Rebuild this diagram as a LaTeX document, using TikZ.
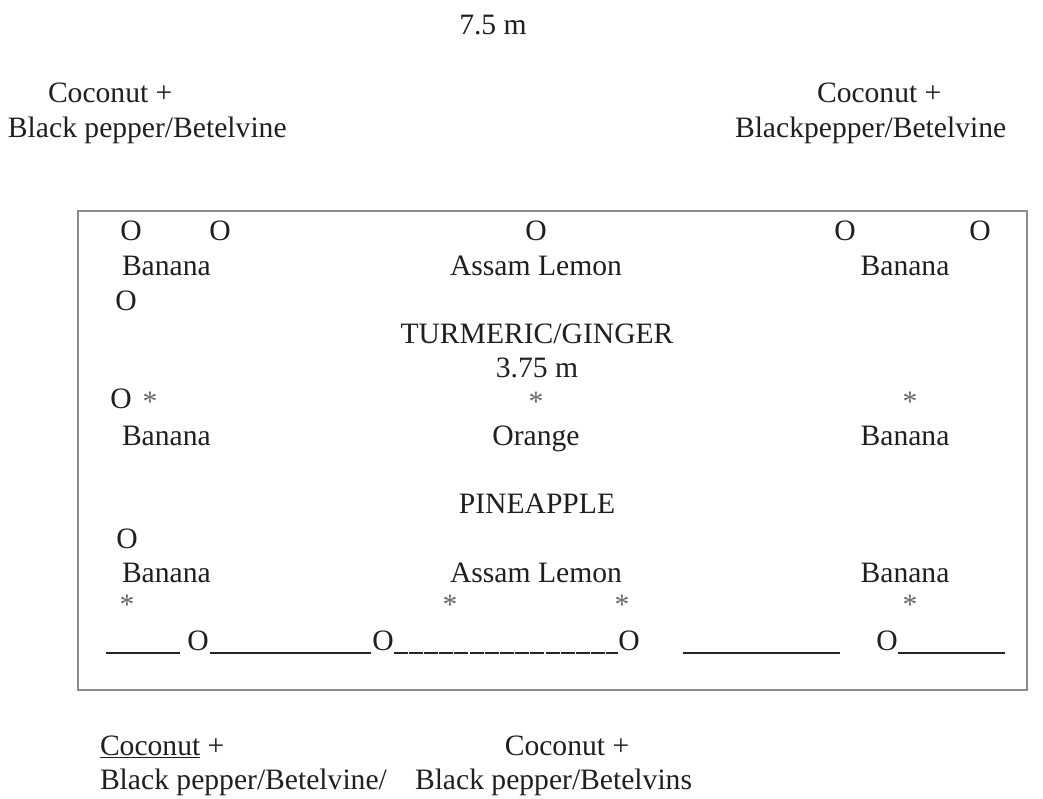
\documentclass[tikz,border=0pt]{standalone}
\usepackage{fontspec}
\setmainfont{Liberation Serif}
\begin{document}
\begin{tikzpicture}[x=1pt,y=-1pt,
  every node/.style={inner sep=0pt,outer sep=0pt,font=\fontsize{29.6}{34}\selectfont,text=black!88},
  lab/.style={anchor=base},
  labw/.style={anchor=base west},
  tree/.style={anchor=base},
  star/.style={anchor=base,text=black!60},
  boxline/.style={draw=black!45,line width=2pt},
  rule/.style={line width=1.4pt,draw=black!85}]
\useasboundingbox (0,0) rectangle (1043,798);
% title
\node[lab] (title) at (493,34) {7.5 m};
% top corners
\node[labw] (tlA) at (48,102) {Coconut +};
\node[labw] (tlB) at (8,137) {Black pepper/Betelvine};
\node[labw] (trA) at (817,102) {Coconut +};
\node[labw] (trB) at (735,137) {Blackpepper/Betelvine};
% plot boundary
\draw[boxline] (78,211) rectangle (1027,690);
% row 1
\node[tree] (o1) at (131,240) {O};
\node[tree] (o2) at (220,240) {O};
\node[tree] (o3) at (536,240) {O};
\node[tree] (o4) at (845,240) {O};
\node[tree] (o5) at (980,240) {O};
\node[labw] (b1) at (122,275) {Banana};
\node[lab] (al1) at (536,275) {Assam Lemon};
\node[lab] (b2) at (905,275) {Banana};
\node[tree] (o6) at (126,310) {O};
\node[lab] (tg) at (537,343) {TURMERIC/GINGER};
\node[lab] (dist) at (537,377) {3.75 m};
% row 2
\node[tree] (o7) at (121,408) {O};
\node[star] (s1) at (150,411) {*};
\node[star] (s2) at (536,411) {*};
\node[star] (s3) at (910,411) {*};
\node[labw] (b3) at (122,445) {Banana};
\node[lab] (or) at (536,445) {Orange};
\node[lab] (b4) at (905,445) {Banana};
\node[lab] (pa) at (537,513) {PINEAPPLE};
% row 3
\node[tree] (o8) at (127,548) {O};
\node[labw] (b5) at (122,582) {Banana};
\node[lab] (al2) at (536,582) {Assam Lemon};
\node[lab] (b6) at (905,582) {Banana};
\node[star] (s4) at (127,614) {*};
\node[star] (s5) at (450,614) {*};
\node[star] (s6) at (622,614) {*};
\node[star] (s7) at (910,614) {*};
% bottom row
\node[tree] (z1) at (198,650) {O};
\node[tree] (z2) at (383,650) {O};
\node[tree] (z3) at (629,650) {O};
\node[tree] (z4) at (887,650) {O};
\coordinate (l1a) at (106,653);
\coordinate (l1b) at (180,653);
\coordinate (l4a) at (683,653);
\coordinate (l4b) at (840,653);
\coordinate (l5b) at (1005,653);
\draw[rule] (l1a) -- (l1b);
\draw[rule] ([xshift=1pt]z1.east |- l1a) -- ([xshift=-1pt]z2.west |- l1a);
\draw[rule,dash pattern=on 14pt off 1.2pt] (z2.east |- l1a) -- (z3.west |- l1a);
\draw[rule] (l4a) -- (l4b);
\draw[rule] (z4.east |- l1a) -- (l5b);
% bottom labels
\node[labw] (bcA) at (100,755) {\underline{Coconut} +};
\node[labw] (bcB) at (100,789) {Black pepper/Betelvine/};
\node[lab] (bdA) at (567,755) {Coconut +};
\node[labw] (bdB) at (415,789) {Black pepper/Betelvins};
\end{tikzpicture}
\end{document}
